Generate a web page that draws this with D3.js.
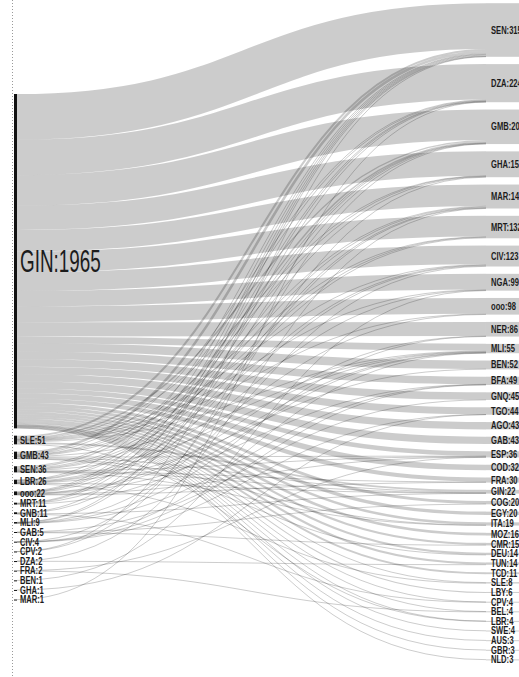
<!DOCTYPE html>
<html>
<head>
<meta charset="utf-8">
<script src="https://cdn.jsdelivr.net/npm/d3@7/dist/d3.min.js"></script>
<style>
  html, body { margin: 0; padding: 0; background: #fff; overflow: hidden; }
  svg { display: block; }
  .lbl { font-family: "Liberation Sans", Arial, sans-serif; fill: #1c1c1c; }
</style>
</head>
<body>
<svg id="chart" width="519" height="677"></svg>
<script>
// Origin column (left), top to bottom
const origins = ["GIN", "SLE", "GMB", "SEN", "LBR", "ooo", "MRT", "GNB", "MLI",
  "GAB", "CIV", "CPV", "DZA", "FRA", "BEN", "GHA", "MAR"];

// Destination column (right), top to bottom
const destinations = ["SEN", "DZA", "GMB", "GHA", "MAR", "MRT", "CIV", "NGA", "ooo",
  "NER", "MLI", "BEN", "BFA", "GNQ", "TGO", "AGO", "GAB", "ESP", "COD", "FRA", "GIN",
  "COG", "EGY", "ITA", "MOZ", "CMR", "DEU", "TUN", "TCD", "SLE", "LBY", "CPV", "BEL",
  "LBR", "SWE", "AUS", "GBR", "NLD"];

// Flows from GIN to each destination (same order as destinations)
const ginFlows = [269, 208, 179, 143, 126, 122, 110, 92, 93, 83, 40, 50, 44, 44, 42, 43,
  43, 27, 32, 25, 0, 18, 20, 15, 16, 13, 12, 13, 11, 5, 6, 3, 3, 2, 4, 3, 3, 3];

// Smaller origins: [origin, destination, count]
const otherFlows = [
  ["SLE", "SEN", 12], ["SLE", "GMB", 8], ["SLE", "GIN", 10], ["SLE", "MLI", 5],
  ["SLE", "CIV", 4], ["SLE", "NGA", 3], ["SLE", "ooo", 3], ["SLE", "LBR", 2],
  ["SLE", "GHA", 2], ["SLE", "MRT", 2],
  ["GMB", "SEN", 15], ["GMB", "GIN", 6], ["GMB", "DZA", 4], ["GMB", "MAR", 4],
  ["GMB", "MRT", 3], ["GMB", "ESP", 3], ["GMB", "GHA", 2], ["GMB", "MLI", 2],
  ["GMB", "ITA", 2], ["GMB", "DEU", 2],
  ["SEN", "GMB", 8], ["SEN", "MRT", 5], ["SEN", "MAR", 4], ["SEN", "DZA", 4],
  ["SEN", "MLI", 3], ["SEN", "ESP", 3], ["SEN", "FRA", 3], ["SEN", "CIV", 2],
  ["SEN", "GIN", 2], ["SEN", "ITA", 2],
  ["LBR", "SLE", 3], ["LBR", "CIV", 5], ["LBR", "GHA", 4], ["LBR", "SEN", 3],
  ["LBR", "NGA", 3], ["LBR", "GIN", 2], ["LBR", "GMB", 2], ["LBR", "ooo", 2],
  ["LBR", "BEN", 2],
  ["ooo", "SEN", 4], ["ooo", "DZA", 3], ["ooo", "MAR", 3], ["ooo", "GMB", 2],
  ["ooo", "FRA", 2], ["ooo", "ESP", 2], ["ooo", "MLI", 2], ["ooo", "NER", 2],
  ["ooo", "BFA", 2],
  ["MRT", "SEN", 4], ["MRT", "MAR", 3], ["MRT", "DZA", 2], ["MRT", "MLI", 2],
  ["GNB", "SEN", 5], ["GNB", "GMB", 3], ["GNB", "CPV", 1], ["GNB", "GIN", 2],
  ["MLI", "SEN", 2], ["MLI", "DZA", 2], ["MLI", "BFA", 2], ["MLI", "NER", 1],
  ["MLI", "CIV", 2],
  ["GAB", "COG", 2], ["GAB", "CMR", 2], ["GAB", "GNQ", 1],
  ["CIV", "GHA", 1], ["CIV", "BFA", 1], ["CIV", "MLI", 1], ["CIV", "TGO", 1],
  ["CPV", "SEN", 1], ["CPV", "GMB", 1],
  ["DZA", "MAR", 1], ["DZA", "TUN", 1],
  ["FRA", "ESP", 1], ["FRA", "BEL", 1],
  ["BEN", "NGA", 1],
  ["GHA", "TGO", 1],
  ["MAR", "DZA", 1]
];

// ---- layout -------------------------------------------------------------
const W = 519, H = 677;
const leftX = 14, nodeW = 3;          // origin bars
const rightX = 486, rightW = 60;      // destination blocks (run off the edge)
const nodePad = 7.3;                  // gap between nodes
const minSlot = 2.3;                  // smallest vertical slot a node takes
const valueSpan = 373;                // pixels for the full flow total
const rightTop = 3.2;
const leftTop = 94;
const squeeze = 0.76;                 // horizontal text compression

const leftNodes = origins.map(name => ({ name, value: 0, out: [], inn: [] }));
const rightNodes = destinations.map(name => ({ name, value: 0, out: [], inn: [] }));
const leftBy = new Map(leftNodes.map(n => [n.name, n]));
const rightBy = new Map(rightNodes.map(n => [n.name, n]));

const links = [];
destinations.forEach((d, i) => {
  if (ginFlows[i] > 0) links.push({ source: leftBy.get("GIN"), target: rightBy.get(d), value: ginFlows[i] });
});
otherFlows.forEach(([s, t, v]) => links.push({ source: leftBy.get(s), target: rightBy.get(t), value: v }));

links.forEach(l => {
  l.source.value += l.value; l.target.value += l.value;
  l.source.out.push(l); l.target.inn.push(l);
});

const total = d3.sum(rightNodes, d => d.value);
const y = d3.scaleLinear().domain([0, total]).range([0, valueSpan]);

function stack(nodes, top) {
  let cur = top;
  nodes.forEach(n => {
    const h = y(n.value);
    const slot = Math.max(h, minSlot);
    n.y0 = cur + (slot - h) / 2;
    n.y1 = n.y0 + h;
    cur += slot + nodePad;
  });
}
stack(rightNodes, rightTop);
stack(leftNodes, leftTop);

// link offsets within each node
leftNodes.forEach(n => {
  n.out.sort((a, b) => a.target.y0 - b.target.y0);
  let c = n.y0;
  n.out.forEach(l => { l.width = y(l.value); l.y0 = c + l.width / 2; c += l.width; });
});
rightNodes.forEach(n => {
  n.inn.sort((a, b) => a.source.y0 - b.source.y0);
  let c = n.y0;
  n.inn.forEach(l => { l.y1 = c + l.width / 2; c += l.width; });
});

// ---- drawing ------------------------------------------------------------
const svg = d3.select("#chart");

svg.append("line")
  .attr("x1", 12.5).attr("x2", 12.5).attr("y1", 0).attr("y2", H)
  .attr("stroke", "#9a9a9a").attr("stroke-width", 1)
  .attr("stroke-dasharray", "1,2");

const linkPath = d3.linkHorizontal()
  .source(d => [leftX + nodeW, d.y0])
  .target(d => [rightX, d.y1]);

svg.append("g")
  .attr("fill", "none")
  .attr("stroke", "#000")
  .attr("stroke-opacity", 0.2)
  .selectAll("path")
  .data(links)
  .join("path")
  .attr("d", linkPath)
  .attr("stroke-width", d => Math.max(1, d.width));

svg.append("g")
  .selectAll("rect")
  .data(rightNodes)
  .join("rect")
  .attr("x", rightX).attr("width", rightW)
  .attr("y", d => d.y0)
  .attr("height", d => Math.max(1, d.y1 - d.y0))
  .attr("fill", "#000").attr("fill-opacity", 0.2);

svg.append("g")
  .selectAll("rect")
  .data(leftNodes)
  .join("rect")
  .attr("x", leftX).attr("width", nodeW)
  .attr("y", d => d.y0)
  .attr("height", d => Math.max(1, d.y1 - d.y0))
  .attr("fill", "#111");

function label(sel, x, big) {
  sel.append("text")
    .attr("class", "lbl")
    .attr("transform", d => `translate(${x},${(d.y0 + d.y1) / 2}) scale(${big(d) ? 0.59 : squeeze},1)`)
    .attr("dy", "0.35em")
    .style("font-size", d => big(d) ? "32px" : "10px")
    .style("font-weight", d => big(d) ? "normal" : "bold")
    .text(d => `${d.name}:${d.value}`);
}

const lbls = svg.append("g");
label(lbls.selectAll(null).data(leftNodes).enter(), leftX + nodeW + 3, d => d.y1 - d.y0 > 60);
label(lbls.selectAll(null).data(rightNodes).enter(), rightX + 5, () => false);
</script>
</body>
</html>
